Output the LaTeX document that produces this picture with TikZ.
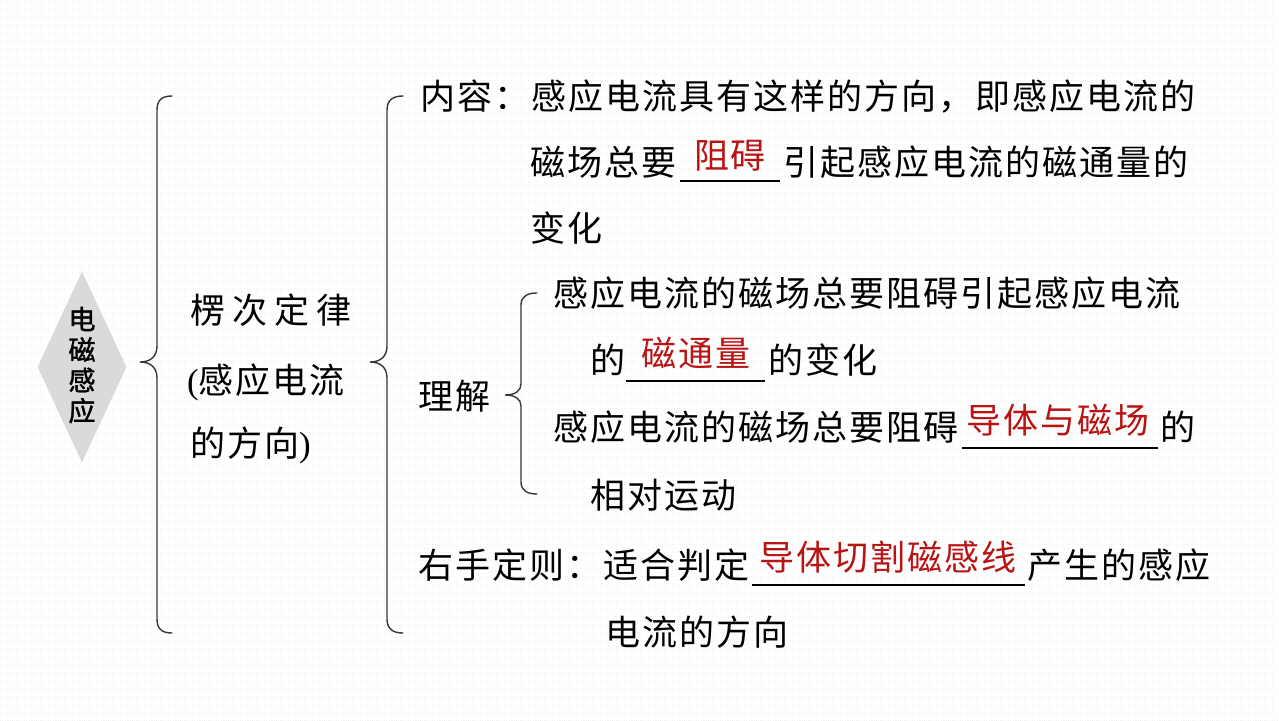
\documentclass[tikz,border=0pt]{standalone}
\usepackage{fontspec}
\setmainfont{Noto Sans CJK SC}
\newfontfamily\cjk[LetterSpace=5.7]{Noto Sans CJK SC}
\newfontfamily\cjkwide[LetterSpace=20]{Noto Sans CJK SC}
\newfontfamily\cjkbold[FakeBold=1.5]{Noto Sans CJK SC}
\newfontfamily\serifen{Liberation Serif}
\definecolor{ansred}{RGB}{185,20,20}
\definecolor{bracegray}{RGB}{55,55,55}
\definecolor{diagray}{RGB}{218,218,218}
\usetikzlibrary{shapes.geometric}
\tikzset{
  txt/.style={inner sep=0pt, anchor=base west, text=black, font=\cjk\fontsize{35}{35}\selectfont},
  ans/.style={inner sep=0pt, anchor=base, text=ansred, font=\cjk\fontsize{35}{35}\selectfont},
  blank/.style={line width=1.5pt, black},
  bracel/.style={line width=1.4pt, draw=bracegray, line cap=round},
}
\begin{document}
\begin{tikzpicture}[x=1pt,y=-1pt]
\useasboundingbox (0,0) rectangle (1279,720);
\fill[white] (0,0) rectangle (1279,720);
\draw[black!4, line width=0.4pt, dotted] (0,0) grid[step=8pt] (1279,720);

% diamond
\node[diamond, fill=diagray, minimum width=89pt, minimum height=191pt, inner sep=0pt] (dia) at (82,367) {};
\node[inner sep=0pt, align=center, font=\cjkbold\fontsize{27}{30.5}\selectfont] (diat) at (82,365) {电\\磁\\感\\应};

% left brace
\draw[bracel] (172,96) .. controls (162,96) and (157,100) .. (157,110) -- (157,346)
  .. controls (157,356) and (151,362) .. (140,362)
  .. controls (151,362) and (157,368) .. (157,378) -- (157,619)
  .. controls (157,629) and (162,633) .. (172,633);

% middle column
\node[txt, font=\cjkwide\fontsize{35}{35}\selectfont] (lenz) at (190,323) {楞次定律};
\node[txt] (lenz2) at (187,393) {{\serifen(}感应电流};
\node[txt] (lenz3) at (190,456) {的方向{\serifen)}};

% right brace
\draw[bracel] (403,96) .. controls (393,96) and (387,100) .. (387,110) -- (387,346)
  .. controls (387,356) and (381,362) .. (370,362)
  .. controls (381,362) and (387,368) .. (387,378) -- (387,619)
  .. controls (387,629) and (393,633) .. (403,633);

% content
\node[txt] (c1) at (420,109) {内容：感应电流具有这样的方向，即感应电流的};
\node[txt] (c2) at (530,175) {磁场总要};
\coordinate (u1a) at (680,181);
\coordinate (u1b) at (780,181);
\draw[blank] (u1a) -- (u1b);
\node[ans] (a1) at (730,168) {阻碍};
\node[txt] (c2b) at (783,175) {引起感应电流的磁通量的};
\node[txt] (c3) at (530,241) {变化};

% understanding
\node[txt] (lj) at (418,409) {理解};
\draw[bracel] (537,293) .. controls (528,293) and (521,296) .. (521,305) -- (521,384)
  .. controls (521,391) and (515,395) .. (505,395)
  .. controls (515,395) and (521,399) .. (521,406) -- (521,482)
  .. controls (521,491) and (528,494) .. (537,494);
\node[txt] (d1) at (553,306) {感应电流的磁场总要阻碍引起感应电流};
\node[txt] (d2) at (590,373) {的};
\coordinate (u2a) at (626,381);
\coordinate (u2b) at (765,381);
\draw[blank] (u2a) -- (u2b);
\node[ans] (a2) at (696,366) {磁通量};
\node[txt] (d2b) at (768,373) {的变化};
\node[txt] (d3) at (553,440) {感应电流的磁场总要阻碍};
\coordinate (u3a) at (962,448);
\coordinate (u3b) at (1158,448);
\draw[blank] (u3a) -- (u3b);
\node[ans] (a3) at (1058,433) {导体与磁场};
\node[txt] (d3b) at (1160,440) {的};
\node[txt] (d4) at (590,508) {相对运动};

% right-hand rule
\node[txt] (r1) at (418,578) {右手定则：适合判定};
\coordinate (u4a) at (752,585);
\coordinate (u4b) at (1025,585);
\draw[blank] (u4a) -- (u4b);
\node[ans] (a4) at (888,570) {导体切割磁感线};
\node[txt] (r1b) at (1027,578) {产生的感应};
\node[txt] (r2) at (605,645) {电流的方向};
\end{tikzpicture}
\end{document}
